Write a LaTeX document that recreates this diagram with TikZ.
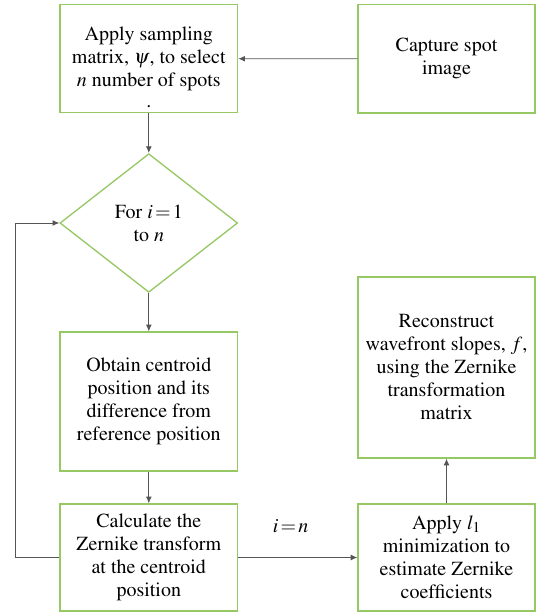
\documentclass[tikz,border=0pt]{standalone}
\usepackage[T1]{fontenc}
\usepackage{mathptmx}
\usetikzlibrary{arrows.meta}
\usetikzlibrary{shapes.geometric}
\definecolor{boxgreen}{RGB}{150,200,100}
\definecolor{linegray}{RGB}{85,85,85}

\begin{document}
\begin{tikzpicture}[x=0.6pt, y=-0.6pt,
    every node/.style={font=\fontsize{12}{13.8}\selectfont},
    stepbox/.style={draw=boxgreen, line width=0.8pt, inner sep=0pt, align=center, minimum width=106.6pt},
    decision/.style={diamond, draw=boxgreen, line width=0.8pt, inner sep=0pt, align=center, minimum width=106.6pt, minimum height=83.2pt},
    flow/.style={draw=linegray, line width=0.5pt, -{Latex[length=4pt,width=3.5pt]}}]
    \useasboundingbox (0, 0) rectangle (536, 612);
    % left column
    \node[stepbox, minimum height=64.8pt] (sample) at (148.8, 58.7) {Apply sampling\\matrix, $\psi$, to select\\$n$ number of spots};
    \node (dot) at (148.8, 106.5) {.};
    \node[decision] (decide) at (148.8, 223) {For $i\,{=}\,1$\\to $n$};
    \node[stepbox, minimum height=83.4pt] (centroid) at (148.8, 401.5) {Obtain centroid\\position and its\\difference from\\reference position};
    \node[stepbox, minimum height=64.2pt] (calc) at (148.8, 557.5) {Calculate the\\Zernike transform\\at the centroid\\position};
    % right column
    \node[stepbox, minimum width=106.2pt, minimum height=65pt] (capture) at (446.5, 58.8) {Capture spot\\image};
    \node[stepbox, minimum width=106.2pt, minimum height=108.6pt] (rebuild) at (446.5, 367.5) {Reconstruct\\wavefront slopes, $f$,\\using the Zernike\\transformation\\matrix};
    \node[stepbox, minimum width=106.2pt, minimum height=64.2pt] (minim) at (446.5, 557.5) {Apply $l_1$\\minimization to\\estimate Zernike\\coefficients};
    \coordinate (loop) at (15.7, 557.5);
    % connectors
    \draw[flow] (capture) -- (sample);
    \draw[flow] (sample) -- (decide);
    \draw[flow] (decide) -- (centroid);
    \draw[flow] (centroid) -- (calc);
    \draw[flow] (calc.west) -- (loop) |- (decide.west);
    \draw[flow] (calc) -- (minim) node[pos=0.44, above=11pt] {$i\,{=}\,n$};
    \draw[flow] (minim) -- (rebuild);
\end{tikzpicture}
\end{document}
